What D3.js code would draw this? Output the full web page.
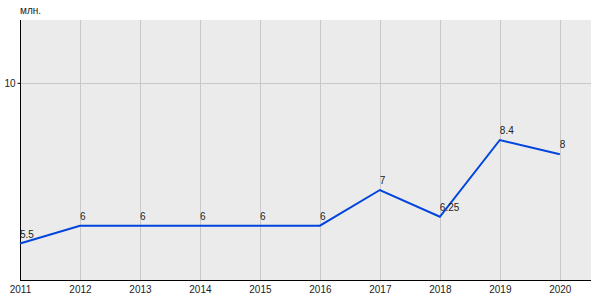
<!DOCTYPE html>
<html>
<head>
<meta charset="utf-8">
<script src="https://cdn.jsdelivr.net/npm/d3@7"></script>
<style>
  body { margin: 0; background: #fff; }
  text { font-family: "Liberation Sans", Arial, sans-serif; }
</style>
</head>
<body>
<div id="chart"></div>
<script>
var years = [2011, 2012, 2013, 2014, 2015, 2016, 2017, 2018, 2019, 2020];
var values = [5.5, 6, 6, 6, 6, 6, 7, 6.25, 8.4, 8];
var valueLabels = ["5.5", "6", "6", "6", "6", "6", "7", "6.25", "8.4", "8"];
var yTicks = [10];

var width = 600, height = 300;
// plot box (don't call these top/left, window.top is read-only)
var pLeft = 20, pRight = 591, pTop = 20, pBottom = 280;

var svg = d3.select("#chart").append("svg")
    .attr("width", width)
    .attr("height", height);

// x: one step per year, some room after the last one
var x = d3.scaleLinear().domain([2011, 2020.52]).range([pLeft, pRight]);
var y = d3.scaleLinear().domain([4.48, 11.76]).range([pBottom, pTop]);

svg.append("rect")
    .attr("x", pLeft).attr("y", pTop)
    .attr("width", pRight - pLeft).attr("height", pBottom - pTop)
    .attr("fill", "#ebebeb");

// vertical grid
svg.selectAll(".vgrid").data(years).enter().append("line")
    .attr("class", "vgrid")
    .attr("x1", function (d) { return Math.round(x(d)) + 0.5; })
    .attr("x2", function (d) { return Math.round(x(d)) + 0.5; })
    .attr("y1", pTop).attr("y2", pBottom)
    .attr("stroke", "#c8c8c8");

// horizontal grid
svg.selectAll(".hgrid").data(yTicks).enter().append("line")
    .attr("class", "hgrid")
    .attr("x1", pLeft).attr("x2", pRight)
    .attr("y1", function (d) { return Math.round(y(d)) + 0.5; })
    .attr("y2", function (d) { return Math.round(y(d)) + 0.5; })
    .attr("stroke", "#c8c8c8");

// y axis
var yAxis = d3.axisLeft(y).tickValues(yTicks).tickSize(3).tickPadding(2);
var gy = svg.append("g").attr("transform", "translate(" + (pLeft + 0.5) + ",0)").call(yAxis);
gy.select(".domain").attr("d", "M0," + pTop + "V" + pBottom).attr("stroke", "#000");
gy.selectAll("text").attr("font-size", 10).attr("fill", "#222")
    .attr("font-family", "Liberation Sans, Arial, sans-serif");

// x axis
var xAxis = d3.axisBottom(x).tickValues(years).tickFormat(d3.format("d")).tickSize(0).tickPadding(5);
var gx = svg.append("g").attr("transform", "translate(0," + (pBottom + 0.5) + ")").call(xAxis);
gx.select(".domain").attr("d", "M" + pLeft + ",0H" + pRight).attr("stroke", "#000");
gx.selectAll("text").attr("font-size", 10).attr("fill", "#222")
    .attr("font-family", "Liberation Sans, Arial, sans-serif");

svg.append("text")
    .attr("x", pLeft).attr("y", 14)
    .attr("font-size", 10).attr("fill", "#222")
    .text("млн.");

var line = d3.line()
    .x(function (d, i) { return x(years[i]); })
    .y(function (d) { return y(d); });

svg.append("path")
    .datum(values)
    .attr("d", line)
    .attr("fill", "none")
    .attr("stroke", "#0044dd")
    .attr("stroke-width", 2);

svg.selectAll(".vlabel").data(values).enter().append("text")
    .attr("class", "vlabel")
    .attr("x", function (d, i) { return x(years[i]); })
    .attr("y", function (d) { return y(d) - 6; })
    .attr("font-size", 10).attr("fill", "#222")
    .text(function (d, i) { return valueLabels[i]; });
</script>
</body>
</html>
